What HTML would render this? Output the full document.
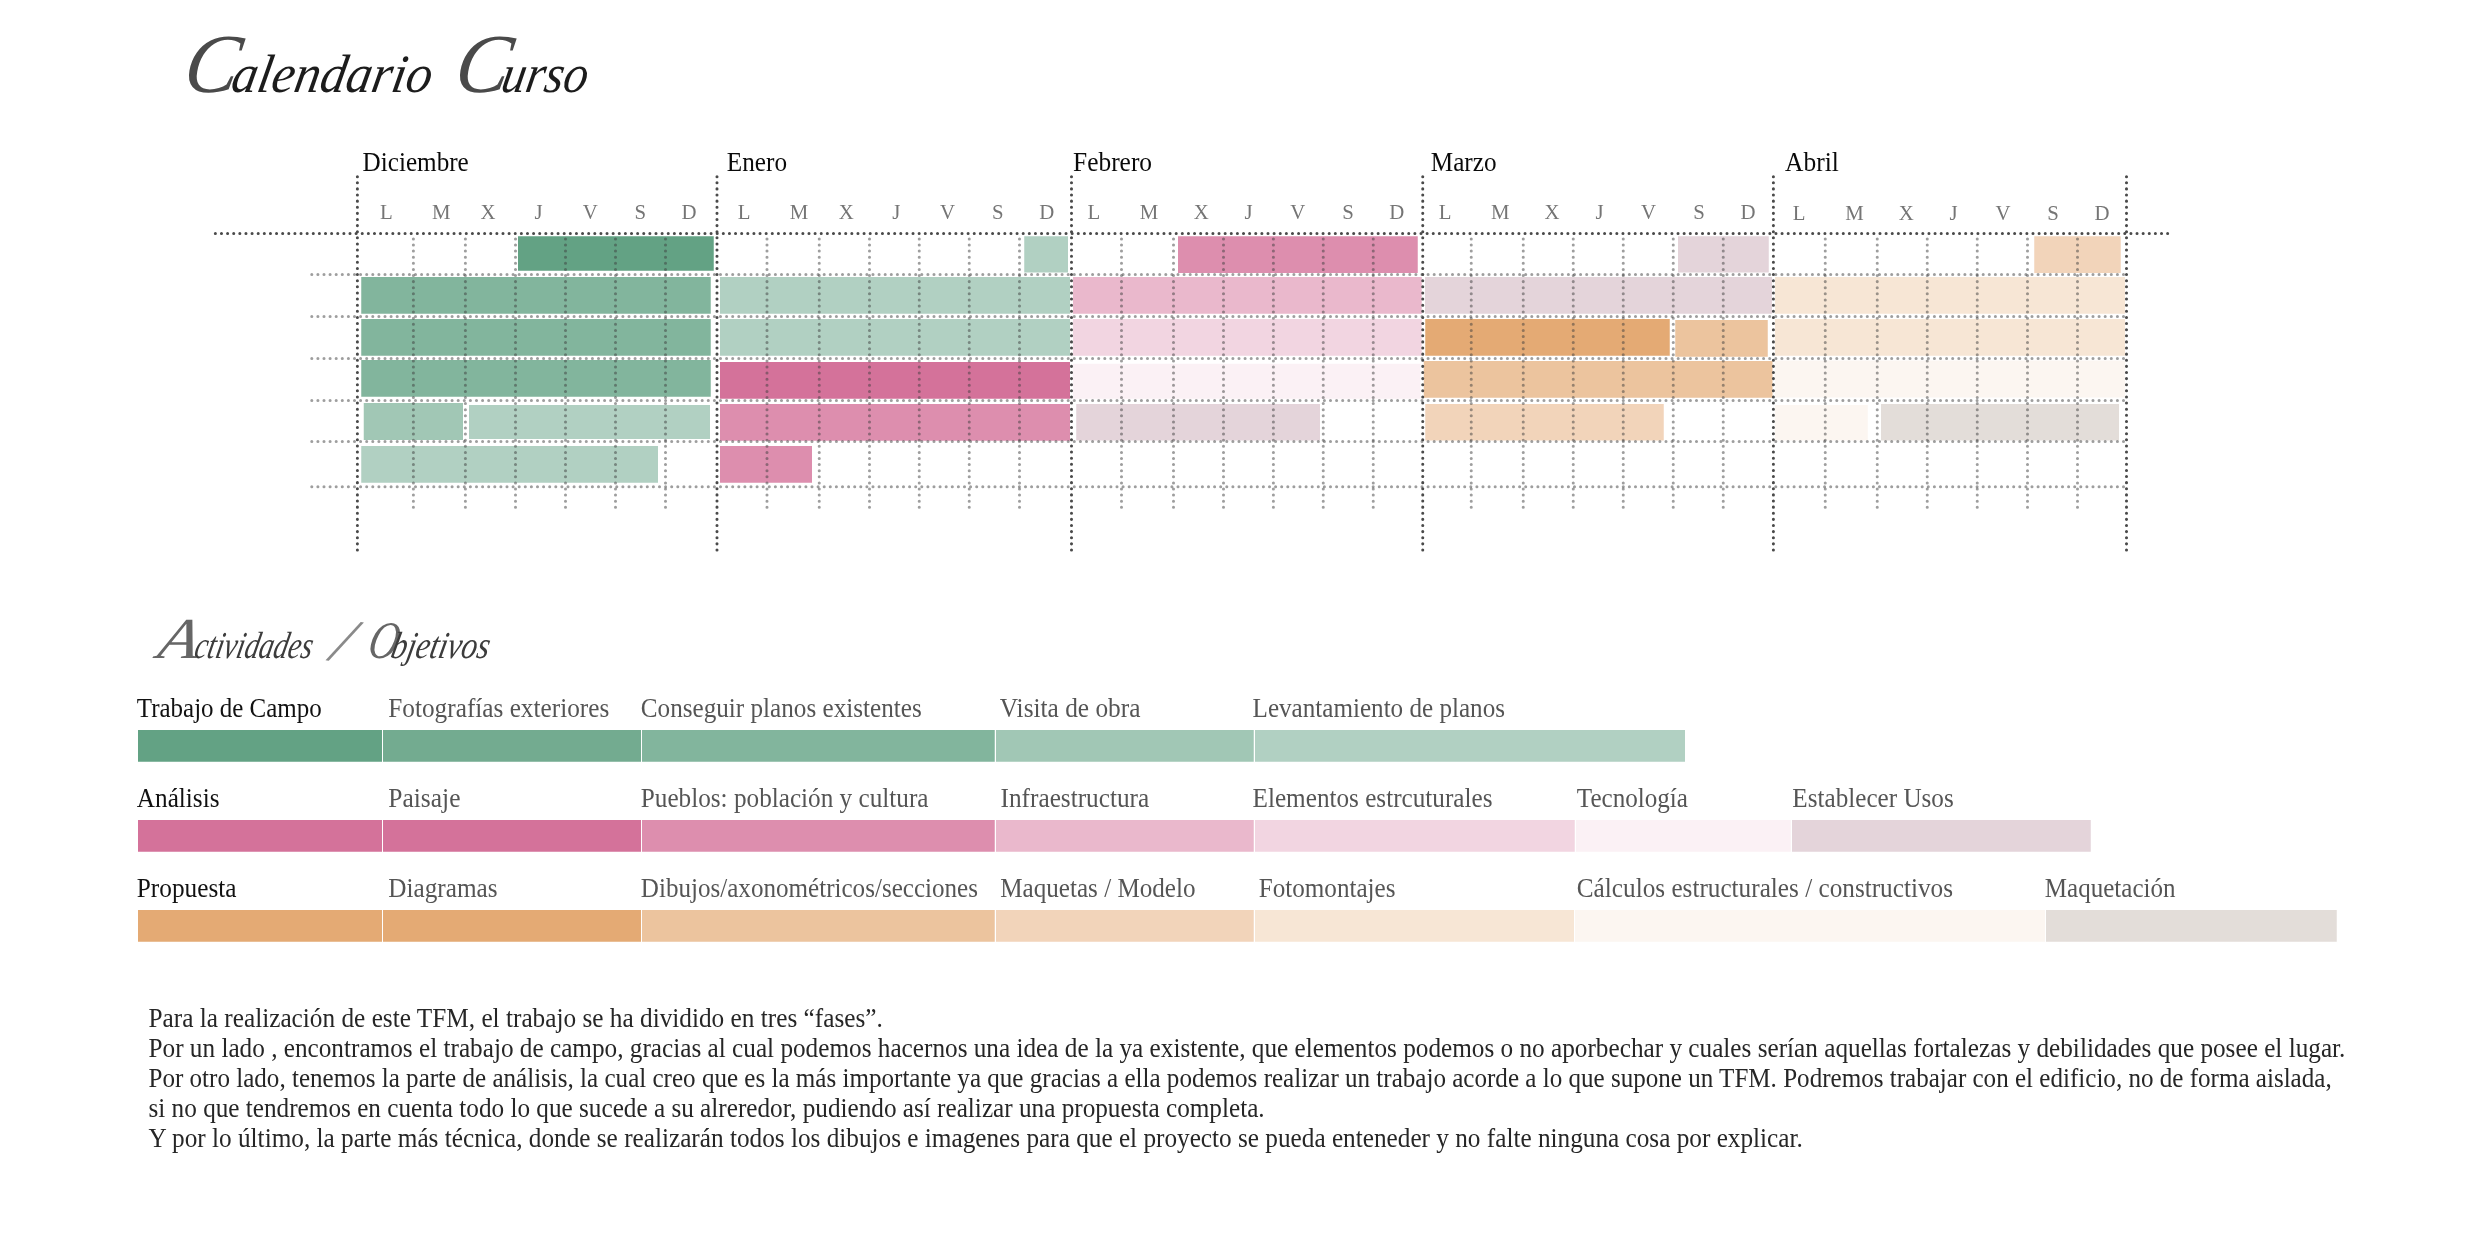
<!DOCTYPE html>
<html lang="es"><head><meta charset="utf-8"><title>Calendario Curso</title>
<style>html,body{margin:0;padding:0;background:#fff}body{width:2480px;height:1240px;overflow:hidden}svg{display:block;filter:blur(.45px)}text{font-family:"Liberation Serif",serif;white-space:pre}.dk{stroke:#4a4a4a;stroke-width:3.05;stroke-linecap:round;stroke-dasharray:0 6.12;fill:none}.lt{stroke:rgba(62,62,62,.5);stroke-width:3.05;stroke-linecap:round;stroke-dasharray:0 6.1;fill:none}.mo{font-size:27.5px;fill:#0a0a0a}.wd{font-size:21.5px;fill:#757575;text-anchor:middle}.la{font-size:27.5px;fill:#111}.lb{font-size:27.5px;fill:#555}.pa{font-size:27.3px;fill:#262626}.ti{font-style:italic;fill:#111}</style></head><body>
<svg width="2480" height="1240" viewBox="0 0 2480 1240">
<rect width="2480" height="1240" fill="#fff"/>
<rect x="518" y="236.25" width="195.75" height="34.5" fill="#63a284"/>
<rect x="361.25" y="277" width="349.5" height="36.75" fill="#82b59d"/>
<rect x="361.25" y="319" width="349.5" height="36.75" fill="#82b59d"/>
<rect x="361.25" y="360" width="349.5" height="36.75" fill="#82b59d"/>
<rect x="363.75" y="403" width="99.25" height="37" fill="#a1c7b5"/>
<rect x="469" y="405" width="241" height="34" fill="#b1d0c2"/>
<rect x="361.25" y="446" width="296.75" height="36.75" fill="#b1d0c2"/>
<rect x="1024.25" y="236.25" width="43.75" height="36.25" fill="#b1d0c2"/>
<rect x="720" y="277" width="350" height="36.75" fill="#b1d0c2"/>
<rect x="720" y="319" width="350" height="36.75" fill="#b1d0c2"/>
<rect x="720" y="362" width="350" height="36.75" fill="#d4729a"/>
<rect x="720" y="404" width="350" height="36.75" fill="#dd8eae"/>
<rect x="720" y="446" width="92" height="36.75" fill="#dd8eae"/>
<rect x="1178" y="236.25" width="239.75" height="36.75" fill="#dd8eae"/>
<rect x="1073" y="277" width="348.75" height="36.75" fill="#eab8cc"/>
<rect x="1073" y="319" width="348.75" height="36.75" fill="#f2d5e1"/>
<rect x="1073" y="363.75" width="347.5" height="35.0" fill="#fbf1f5"/>
<rect x="1076.25" y="404" width="243.75" height="36.5" fill="#e4d4da"/>
<rect x="1678" y="236.25" width="90.75" height="36.25" fill="#e4d4da"/>
<rect x="1425" y="277" width="347" height="36.75" fill="#e4d4da"/>
<rect x="1425.25" y="319" width="244.5" height="36.75" fill="#e4aa74"/>
<rect x="1675.25" y="320" width="92.5" height="36.75" fill="#ecc49e"/>
<rect x="1423.75" y="361" width="348.75" height="36.75" fill="#ecc49e"/>
<rect x="1425.25" y="404" width="238.5" height="36.5" fill="#f2d4ba"/>
<rect x="2034.25" y="236.25" width="86.5" height="36.75" fill="#f2d4ba"/>
<rect x="1775" y="277" width="350" height="36.75" fill="#f7e6d5"/>
<rect x="1775" y="319" width="350" height="36.75" fill="#f7e6d5"/>
<rect x="1775" y="360.5" width="350" height="37.0" fill="#fcf6f1"/>
<rect x="1775" y="405" width="92.75" height="35.5" fill="#fcf6f1"/>
<rect x="1881" y="404" width="238" height="36.5" fill="#e3ddd9"/>
<path class="lt" d="M413.4 238.9V508"/>
<path class="lt" d="M465.4 238.9V508"/>
<path class="lt" d="M515.5 238.9V508"/>
<path class="lt" d="M565.5 238.9V508"/>
<path class="lt" d="M615.5 238.9V508"/>
<path class="lt" d="M665.5 238.9V508"/>
<path class="lt" d="M767 238.9V508"/>
<path class="lt" d="M819.25 238.9V508"/>
<path class="lt" d="M869.5 238.9V508"/>
<path class="lt" d="M919.25 238.9V508"/>
<path class="lt" d="M969.25 238.9V508"/>
<path class="lt" d="M1019.5 238.9V508"/>
<path class="lt" d="M1121.5 238.9V508"/>
<path class="lt" d="M1173.5 238.9V508"/>
<path class="lt" d="M1223.5 238.9V508"/>
<path class="lt" d="M1273.4 238.9V508"/>
<path class="lt" d="M1323.25 238.9V508"/>
<path class="lt" d="M1373.25 238.9V508"/>
<path class="lt" d="M1471.25 238.9V508"/>
<path class="lt" d="M1523.25 238.9V508"/>
<path class="lt" d="M1573.25 238.9V508"/>
<path class="lt" d="M1623.25 238.9V508"/>
<path class="lt" d="M1673.25 238.9V508"/>
<path class="lt" d="M1723.25 238.9V508"/>
<path class="lt" d="M1825.25 238.9V508"/>
<path class="lt" d="M1877.25 238.9V508"/>
<path class="lt" d="M1927.25 238.9V508"/>
<path class="lt" d="M1977.25 238.9V508"/>
<path class="lt" d="M2027.5 238.9V508"/>
<path class="lt" d="M2077.5 238.9V508"/>
<path class="lt" d="M311.8 274.5H2127"/>
<path class="lt" d="M311.8 316.5H2127"/>
<path class="lt" d="M311.8 358.5H2127"/>
<path class="lt" d="M311.8 400.5H2127"/>
<path class="lt" d="M311.8 441.5H2127"/>
<path class="lt" d="M311.8 486.75H2127"/>
<path class="dk" d="M357.4 176.65V551"/>
<path class="dk" d="M717 176.65V551"/>
<path class="dk" d="M1071.5 176.65V551"/>
<path class="dk" d="M1422.75 176.65V551"/>
<path class="dk" d="M1773.4 176.65V551"/>
<path class="dk" d="M2126.5 176.65V551"/>
<path class="dk" d="M215.36 233.5H2172"/>
<text class="mo" x="362.55" y="170.75" textLength="106.25" lengthAdjust="spacingAndGlyphs">Diciembre</text>
<text class="mo" x="726.8" y="170.75" textLength="60.25" lengthAdjust="spacingAndGlyphs">Enero</text>
<text class="mo" x="1073.05" y="170.75" textLength="79" lengthAdjust="spacingAndGlyphs">Febrero</text>
<text class="mo" x="1430.8" y="170.75" textLength="65.75" lengthAdjust="spacingAndGlyphs">Marzo</text>
<text class="mo" x="1785.05" y="170.75" textLength="53.75" lengthAdjust="spacingAndGlyphs">Abril</text>
<text class="wd" x="386.5" y="219.5" transform="translate(386.5 0) scale(.97 1) translate(-386.5 0)">L</text>
<text class="wd" x="441.25" y="219.5" transform="translate(441.25 0) scale(.97 1) translate(-441.25 0)">M</text>
<text class="wd" x="488" y="219.5" transform="translate(488 0) scale(.97 1) translate(-488 0)">X</text>
<text class="wd" x="538.5" y="219.5" transform="translate(538.5 0) scale(.97 1) translate(-538.5 0)">J</text>
<text class="wd" x="590.4" y="219.5" transform="translate(590.4 0) scale(.97 1) translate(-590.4 0)">V</text>
<text class="wd" x="640.25" y="219.5" transform="translate(640.25 0) scale(.97 1) translate(-640.25 0)">S</text>
<text class="wd" x="689" y="219.5" transform="translate(689 0) scale(.97 1) translate(-689 0)">D</text>
<text class="wd" x="744" y="219.5" transform="translate(744 0) scale(.97 1) translate(-744 0)">L</text>
<text class="wd" x="799" y="219.5" transform="translate(799 0) scale(.97 1) translate(-799 0)">M</text>
<text class="wd" x="846.25" y="219.5" transform="translate(846.25 0) scale(.97 1) translate(-846.25 0)">X</text>
<text class="wd" x="896.25" y="219.5" transform="translate(896.25 0) scale(.97 1) translate(-896.25 0)">J</text>
<text class="wd" x="947.5" y="219.5" transform="translate(947.5 0) scale(.97 1) translate(-947.5 0)">V</text>
<text class="wd" x="997.75" y="219.5" transform="translate(997.75 0) scale(.97 1) translate(-997.75 0)">S</text>
<text class="wd" x="1046.75" y="219.5" transform="translate(1046.75 0) scale(.97 1) translate(-1046.75 0)">D</text>
<text class="wd" x="1094" y="219.5" transform="translate(1094 0) scale(.97 1) translate(-1094 0)">L</text>
<text class="wd" x="1149" y="219.5" transform="translate(1149 0) scale(.97 1) translate(-1149 0)">M</text>
<text class="wd" x="1201.25" y="219.5" transform="translate(1201.25 0) scale(.97 1) translate(-1201.25 0)">X</text>
<text class="wd" x="1248.5" y="219.5" transform="translate(1248.5 0) scale(.97 1) translate(-1248.5 0)">J</text>
<text class="wd" x="1297.75" y="219.5" transform="translate(1297.75 0) scale(.97 1) translate(-1297.75 0)">V</text>
<text class="wd" x="1348" y="219.5" transform="translate(1348 0) scale(.97 1) translate(-1348 0)">S</text>
<text class="wd" x="1396.75" y="219.5" transform="translate(1396.75 0) scale(.97 1) translate(-1396.75 0)">D</text>
<text class="wd" x="1445" y="219.5" transform="translate(1445 0) scale(.97 1) translate(-1445 0)">L</text>
<text class="wd" x="1500.25" y="219.5" transform="translate(1500.25 0) scale(.97 1) translate(-1500.25 0)">M</text>
<text class="wd" x="1552" y="219.5" transform="translate(1552 0) scale(.97 1) translate(-1552 0)">X</text>
<text class="wd" x="1599.6" y="219.5" transform="translate(1599.6 0) scale(.97 1) translate(-1599.6 0)">J</text>
<text class="wd" x="1648.5" y="219.5" transform="translate(1648.5 0) scale(.97 1) translate(-1648.5 0)">V</text>
<text class="wd" x="1699" y="219.5" transform="translate(1699 0) scale(.97 1) translate(-1699 0)">S</text>
<text class="wd" x="1748" y="219.5" transform="translate(1748 0) scale(.97 1) translate(-1748 0)">D</text>
<text class="wd" x="1799.25" y="220.5" transform="translate(1799.25 0) scale(.97 1) translate(-1799.25 0)">L</text>
<text class="wd" x="1854.5" y="220.5" transform="translate(1854.5 0) scale(.97 1) translate(-1854.5 0)">M</text>
<text class="wd" x="1906.25" y="220.5" transform="translate(1906.25 0) scale(.97 1) translate(-1906.25 0)">X</text>
<text class="wd" x="1953.5" y="220.5" transform="translate(1953.5 0) scale(.97 1) translate(-1953.5 0)">J</text>
<text class="wd" x="2003" y="220.5" transform="translate(2003 0) scale(.97 1) translate(-2003 0)">V</text>
<text class="wd" x="2053" y="220.5" transform="translate(2053 0) scale(.97 1) translate(-2053 0)">S</text>
<text class="wd" x="2102" y="220.5" transform="translate(2102 0) scale(.97 1) translate(-2102 0)">D</text>
<text class="ti" aria-label="Calendario Curso" y="92.3" style="fill:#1c1c1c" transform="translate(-3 92.3) skewX(-10.5) translate(0 -92.3)"><tspan x="184" font-size="84" textLength="54" lengthAdjust="spacingAndGlyphs" style="fill:#4a4a4a">C</tspan><tspan x="232.5" font-size="54" textLength="200" lengthAdjust="spacingAndGlyphs">alendario</tspan><tspan font-size="54"> </tspan><tspan x="455" font-size="84" textLength="54" lengthAdjust="spacingAndGlyphs" style="fill:#4a4a4a">C</tspan><tspan x="502.5" font-size="54" textLength="86" lengthAdjust="spacingAndGlyphs">urso</tspan></text>
<text class="ti" aria-label="Actividades / Objetivos" y="658" style="fill:#3c3c3c" transform="translate(-2 658) skewX(-12) translate(0 -658)"><tspan x="158" font-size="58" textLength="40" lengthAdjust="spacingAndGlyphs" style="fill:#666">A</tspan><tspan x="195" font-size="38" textLength="117.5" lengthAdjust="spacingAndGlyphs">ctividades</tspan><tspan font-size="38"> </tspan><tspan x="331" y="660" font-size="62" rotate="8" style="fill:#8a8a8a">/</tspan><tspan font-size="38"> </tspan><tspan x="368" y="658" font-size="53" textLength="30" lengthAdjust="spacingAndGlyphs" style="fill:#666">O</tspan><tspan x="391.5" font-size="38" textLength="98" lengthAdjust="spacingAndGlyphs">bjetivos</tspan></text>
<rect x="138" y="730" width="244" height="31.75" fill="#63a284"/>
<rect x="383" y="730" width="258" height="31.75" fill="#73ab90"/>
<rect x="642" y="730" width="352.75" height="31.75" fill="#82b59d"/>
<rect x="996" y="730" width="257.75" height="31.75" fill="#a1c7b5"/>
<rect x="1255" y="730" width="430" height="31.75" fill="#b1d0c2"/>
<text class="la" x="136.8" y="716.6" textLength="184.95" lengthAdjust="spacingAndGlyphs">Trabajo de Campo</text>
<text class="lb" x="388.3" y="716.6" textLength="220.95" lengthAdjust="spacingAndGlyphs">Fotografías exteriores</text>
<text class="lb" x="640.8" y="716.6" textLength="280.95" lengthAdjust="spacingAndGlyphs">Conseguir planos existentes</text>
<text class="lb" x="999.8" y="716.6" textLength="140.7" lengthAdjust="spacingAndGlyphs">Visita de obra</text>
<text class="lb" x="1252.55" y="716.6" textLength="252.45" lengthAdjust="spacingAndGlyphs">Levantamiento de planos</text>
<rect x="138" y="820" width="244" height="31.75" fill="#d4729a"/>
<rect x="383" y="820" width="258" height="31.75" fill="#d4729a"/>
<rect x="642" y="820" width="352.75" height="31.75" fill="#dd8eae"/>
<rect x="996" y="820" width="257.75" height="31.75" fill="#eab8cc"/>
<rect x="1255" y="820" width="319.75" height="31.75" fill="#f2d5e1"/>
<rect x="1576" y="820" width="214.75" height="31.75" fill="#fbf1f5"/>
<rect x="1792" y="820" width="298.75" height="31.75" fill="#e4d4da"/>
<text class="la" x="136.8" y="806.6" textLength="82.7" lengthAdjust="spacingAndGlyphs">Análisis</text>
<text class="lb" x="388.3" y="806.6" textLength="72.2" lengthAdjust="spacingAndGlyphs">Paisaje</text>
<text class="lb" x="640.8" y="806.6" textLength="287.7" lengthAdjust="spacingAndGlyphs">Pueblos: población y cultura</text>
<text class="lb" x="1000.55" y="806.6" textLength="148.7" lengthAdjust="spacingAndGlyphs">Infraestructura</text>
<text class="lb" x="1252.55" y="806.6" textLength="239.95" lengthAdjust="spacingAndGlyphs">Elementos estrcuturales</text>
<text class="lb" x="1576.8" y="806.6" textLength="111.2" lengthAdjust="spacingAndGlyphs">Tecnología</text>
<text class="lb" x="1792.3" y="806.6" textLength="161.45" lengthAdjust="spacingAndGlyphs">Establecer Usos</text>
<rect x="138" y="910" width="244" height="31.75" fill="#e4aa74"/>
<rect x="383" y="910" width="258" height="31.75" fill="#e4aa74"/>
<rect x="642" y="910" width="352.75" height="31.75" fill="#ecc49e"/>
<rect x="996" y="910" width="257.75" height="31.75" fill="#f2d4ba"/>
<rect x="1255" y="910" width="319" height="31.75" fill="#f7e6d5"/>
<rect x="1575" y="910" width="470" height="31.75" fill="#fcf6f1"/>
<rect x="2046" y="910" width="290.75" height="31.75" fill="#e3ddd9"/>
<text class="la" x="136.8" y="896.6" textLength="99.7" lengthAdjust="spacingAndGlyphs">Propuesta</text>
<text class="lb" x="388.3" y="896.6" textLength="109.2" lengthAdjust="spacingAndGlyphs">Diagramas</text>
<text class="lb" x="640.8" y="896.6" textLength="337.2" lengthAdjust="spacingAndGlyphs">Dibujos/axonométricos/secciones</text>
<text class="lb" x="1000.3" y="896.6" textLength="195.2" lengthAdjust="spacingAndGlyphs">Maquetas / Modelo</text>
<text class="lb" x="1258.8" y="896.6" textLength="136.7" lengthAdjust="spacingAndGlyphs">Fotomontajes</text>
<text class="lb" x="1576.8" y="896.6" textLength="376.2" lengthAdjust="spacingAndGlyphs">Cálculos estructurales / constructivos</text>
<text class="lb" x="2044.8" y="896.6" textLength="130.7" lengthAdjust="spacingAndGlyphs">Maquetación</text>
<text class="pa" x="148.5" y="1026.75" textLength="734.33" lengthAdjust="spacingAndGlyphs">Para la realización de este TFM, el trabajo se ha dividido en tres “fases”.</text>
<text class="pa" x="148.5" y="1056.75" textLength="2196.91" lengthAdjust="spacingAndGlyphs">Por un lado , encontramos el trabajo de campo, gracias al cual podemos hacernos una idea de la ya existente, que elementos podemos o no aporbechar y cuales serían aquellas fortalezas y debilidades que posee el lugar.</text>
<text class="pa" x="148.5" y="1086.75" textLength="2183.16" lengthAdjust="spacingAndGlyphs">Por otro lado, tenemos la parte de análisis, la cual creo que es la más importante ya que gracias a ella podemos realizar un trabajo acorde a lo que supone un TFM. Podremos trabajar con el edificio, no de forma aislada,</text>
<text class="pa" x="148.5" y="1116.75" textLength="1116.15" lengthAdjust="spacingAndGlyphs">si no que tendremos en cuenta todo lo que sucede a su alreredor, pudiendo así realizar una propuesta completa.</text>
<text class="pa" x="148.5" y="1146.75" textLength="1654.33" lengthAdjust="spacingAndGlyphs">Y por lo último, la parte más técnica, donde se realizarán todos los dibujos e imagenes para que el proyecto se pueda enteneder y no falte ninguna cosa por explicar.</text>
</svg></body></html>
